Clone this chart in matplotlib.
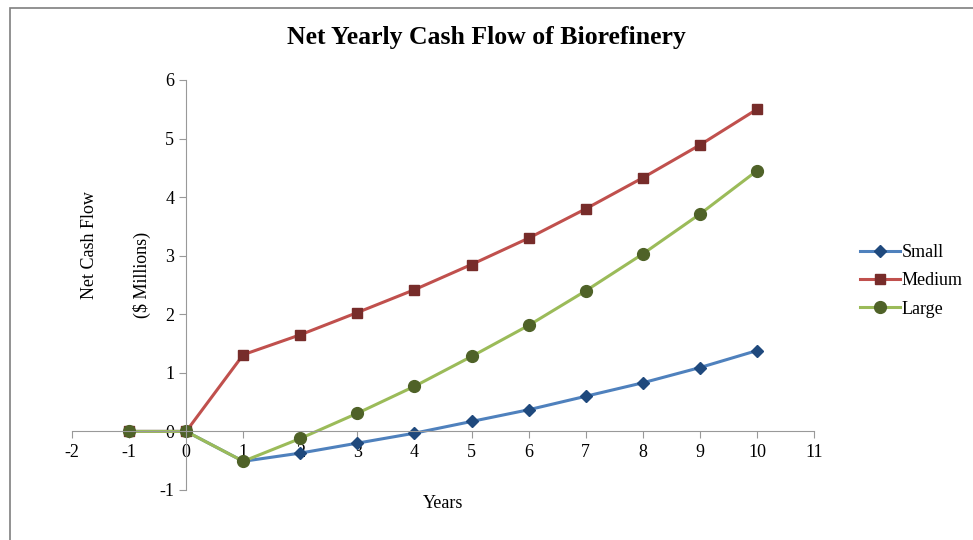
import matplotlib.pyplot as plt
from matplotlib.patches import Rectangle

years = [-1, 0, 1, 2, 3, 4, 5, 6, 7, 8, 9, 10]
small = [0, 0, -0.51, -0.37, -0.20, -0.03, 0.17, 0.37, 0.60, 0.83, 1.09, 1.38]
medium = [0, 0, 1.31, 1.65, 2.03, 2.42, 2.85, 3.30, 3.80, 4.33, 4.89, 5.50]
large = [0, 0, -0.51, -0.12, 0.31, 0.77, 1.28, 1.81, 2.40, 3.03, 3.71, 4.45]

plt.rcParams['font.family'] = ['Liberation Serif', 'DejaVu Serif']
plt.rcParams['axes.unicode_minus'] = False

fig = plt.figure(figsize=(9.73, 5.4), dpi=100)
fig.patches.append(Rectangle((10 / 973, -0.05), 1.0, 1.05 - 8 / 540,
                             transform=fig.transFigure, fill=False,
                             edgecolor='#7f7f7f', linewidth=1.2))
ax = fig.add_axes([72 / 973, 50 / 540, (814 - 72) / 973, (490 - 80) / 540])

ax.plot(years, small, '-D', color='#4F81BD', mfc='#1F497D', mec='#1F497D',
        lw=2.2, ms=6, label='Small')
ax.plot(years, medium, '-s', color='#C0504D', mfc='#772C2A', mec='#772C2A',
        lw=2.2, ms=7.5, label='Medium')
ax.plot(years, large, '-o', color='#9BBB59', mfc='#4F6228', mec='#4F6228',
        lw=2.2, ms=8.5, label='Large')

ax.set_xlim(-2, 11)
ax.set_ylim(-1, 6)
ax.set_xticks(range(-2, 12))
ax.set_yticks(range(-1, 7))
ax.spines['left'].set_position(('data', 0))
ax.spines['bottom'].set_position(('data', 0))
ax.spines['right'].set_visible(False)
ax.spines['top'].set_visible(False)
for s in ['left', 'bottom']:
    ax.spines[s].set_color('#999999')
ax.tick_params(axis='both', colors='#999999', labelcolor='black',
               labelsize=13, length=5, direction='out')
ax.tick_params(axis='x', pad=4)

fig.text(0.5, 0.93, 'Net Yearly Cash Flow of Biorefinery', ha='center',
         va='center', fontsize=18.5, fontweight='bold')
fig.text(443 / 973, 1 - 503 / 540, 'Years', ha='center', va='center', fontsize=13)
fig.text(90 / 973, 1 - 245 / 540, 'Net Cash Flow', ha='center', va='center',
         rotation=90, fontsize=13)
fig.text(142 / 973, 1 - 275 / 540, '($ Millions)', ha='center', va='center',
         rotation=90, fontsize=13)

ax.legend(loc='center left', bbox_to_anchor=(1.04, 0.51), frameon=False,
          fontsize=13, handlelength=2.2, handletextpad=0.1, labelspacing=0.62)

fig.savefig('out.png', dpi=100)
